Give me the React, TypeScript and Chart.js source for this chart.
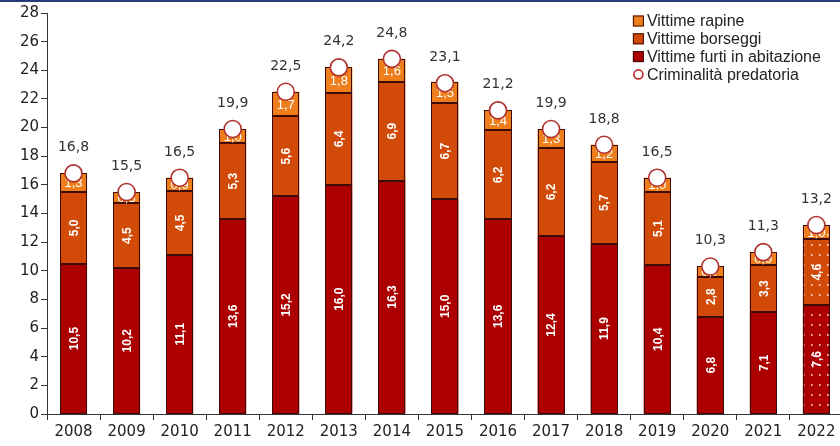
import React, { useEffect, useRef } from 'react';
import { Chart, registerables } from 'chart.js';
Chart.register(...registerables);

const years = ['2008','2009','2010','2011','2012','2013','2014','2015','2016','2017','2018','2019','2020','2021','2022'];
const furti = [10.5,10.2,11.1,13.6,15.2,16.0,16.3,15.0,13.6,12.4,11.9,10.4,6.8,7.1,7.6];
const borseggi = [5.0,4.5,4.5,5.3,5.6,6.4,6.9,6.7,6.2,6.2,5.7,5.1,2.8,3.3,4.6];
const rapine = [1.3,0.8,0.9,1.0,1.7,1.8,1.6,1.5,1.4,1.3,1.2,1.0,0.7,0.9,1.0];
const totale = [16.8,15.5,16.5,19.9,22.5,24.2,24.8,23.1,21.2,19.9,18.8,16.5,10.3,11.3,13.2];
const yMax = 28;
const yStep = 2;
const dottedIndex = 14;

const C_FURTI = '#AC0000';
const C_BORS = '#D24A08';
const C_RAP = '#EE7E1C';
const C_BORDER = '#3e0c08';

const fmt = (v: number) => v.toFixed(1).replace('.', ',');

function makePattern(color: string): CanvasPattern | string {
  const c = document.createElement('canvas');
  c.width = 8; c.height = 10;
  const g = c.getContext('2d');
  if (!g) return color;
  g.fillStyle = color;
  g.fillRect(0, 0, 8, 10);
  g.fillStyle = 'rgba(255,255,255,0.75)';
  g.fillRect(3, 4, 1.5, 2);
  const p = g.createPattern(c, 'repeat');
  return p || color;
}

const labelPlugin = {
  id: 'segLabels',
  afterDatasetDraw(chart: any, args: any) {
    if (args.index !== 0) return;
    const ctx = chart.ctx;
    ctx.save();
    ctx.strokeStyle = C_BORDER;
    ctx.lineWidth = 1;
    for (let d = 0; d < 3; d++) {
      const meta = chart.getDatasetMeta(d);
      meta.data.forEach((el: any) => {
        const { x, y, base, width } = el.getProps(['x', 'y', 'base', 'width'], true);
        const l = Math.round(x - width / 2) + 0.5;
        const r = Math.round(x + width / 2) - 0.5;
        const t = Math.round(y) + 0.5;
        const b = Math.round(base) - 0.5;
        ctx.strokeRect(l, t, r - l, b - t);
      });
    }
    for (let d = 0; d < 3; d++) {
      const meta = chart.getDatasetMeta(d);
      const vals = chart.data.datasets[d].data as number[];
      meta.data.forEach((el: any, j: number) => {
        const { x, y, base } = el.getProps(['x', 'y', 'base'], true);
        const cy = (y + base) / 2;
        ctx.fillStyle = '#ffffff';
        ctx.textAlign = 'center';
        ctx.textBaseline = 'middle';
        if (d < 2) {
          ctx.font = 'bold 12px "Liberation Sans"';
          ctx.save();
          ctx.translate(x, cy);
          ctx.rotate(-Math.PI / 2);
          ctx.fillText(fmt(vals[j]), 0, 1);
          ctx.restore();
        } else {
          ctx.font = '13px "Liberation Sans"';
          ctx.fillText(fmt(vals[j]), x, cy + 1);
        }
      });
    }
    ctx.restore();
  },
  afterDatasetsDraw(chart: any) {
    const ctx = chart.ctx;
    const meta = chart.getDatasetMeta(3);
    const vals = chart.data.datasets[3].data as number[];
    ctx.save();
    ctx.font = '14px "DejaVu Sans"';
    ctx.fillStyle = '#333333';
    ctx.textAlign = 'center';
    ctx.textBaseline = 'alphabetic';
    meta.data.forEach((el: any, j: number) => {
      ctx.fillText(fmt(vals[j]), el.x, el.y - 22);
    });
    ctx.restore();
  },
};

const legendPlugin = {
  id: 'customLegend',
  afterDraw(chart: any) {
    const ctx = chart.ctx;
    const ds = chart.data.datasets;
    const items = [ds[2], ds[1], ds[0], ds[3]];
    const x0 = chart.chartArea.right - 210;
    const y0 = chart.chartArea.top + 8;
    ctx.save();
    ctx.font = '16px "Liberation Sans"';
    ctx.textBaseline = 'middle';
    items.forEach((it: any, i: number) => {
      const cy = y0 + i * 17.8;
      if (i < 3) {
        ctx.fillStyle = it.legendColor;
        ctx.fillRect(x0, cy - 5.5, 11, 11);
        ctx.strokeStyle = C_BORDER;
        ctx.lineWidth = 1;
        ctx.strokeRect(x0 + 0.5, cy - 5, 10, 10);
      } else {
        ctx.beginPath();
        ctx.arc(x0 + 5.5, cy, 4.5, 0, Math.PI * 2);
        ctx.fillStyle = '#fff';
        ctx.fill();
        ctx.strokeStyle = '#c0282a';
        ctx.lineWidth = 1.6;
        ctx.stroke();
      }
      ctx.fillStyle = '#222222';
      ctx.textAlign = 'left';
      ctx.fillText(it.label, x0 + 14, cy + 1);
    });
    ctx.restore();
  },
};

export default function App() {
  const ref = useRef<HTMLCanvasElement | null>(null);
  useEffect(() => {
    if (!ref.current) return;
    const colorsFor = (c: string) => years.map((_, i) => (i === dottedIndex ? makePattern(c) : c));
    const barCommon = { borderWidth: 0, stack: 's', order: 1, barPercentage: 0.51, categoryPercentage: 1 };
    const chart = new Chart(ref.current, {
      type: 'bar',
      data: {
        labels: years,
        datasets: [
          { type: 'bar', label: 'Vittime furti in abitazione', data: furti, backgroundColor: colorsFor(C_FURTI) as any, legendColor: C_FURTI, ...barCommon } as any,
          { type: 'bar', label: 'Vittime borseggi', data: borseggi, backgroundColor: colorsFor(C_BORS) as any, legendColor: C_BORS, ...barCommon } as any,
          { type: 'bar', label: 'Vittime rapine', data: rapine, backgroundColor: colorsFor(C_RAP) as any, legendColor: C_RAP, ...barCommon } as any,
          { type: 'line', label: 'Criminalità predatoria', data: totale, showLine: false, pointRadius: 8.5, pointBackgroundColor: '#ffffff', pointBorderColor: '#b0302e', pointBorderWidth: 1.6, order: 0, stack: 'line' } as any,
        ],
      },
      options: {
        responsive: false,
        animation: false,
        layout: { padding: { top: 13, right: 1, left: 0, bottom: 0 } },
        plugins: { legend: { display: false }, tooltip: { enabled: false } },
        scales: {
          x: {
            stacked: true,
            grid: { offset: true, drawOnChartArea: false, tickLength: 6, color: '#333' },
            border: { color: '#333' },
            ticks: { color: '#222', font: { family: 'DejaVu Sans', size: 15 }, padding: 3, maxRotation: 0 },
            afterFit: (s: any) => { s.height = 32; },
          },
          y: {
            stacked: true,
            min: 0,
            max: yMax,
            grid: { drawOnChartArea: false, tickLength: 6, color: '#333' },
            border: { color: '#333' },
            ticks: { stepSize: yStep, color: '#222', font: { family: 'DejaVu Sans', size: 15 }, padding: 2 },
            afterFit: (s: any) => { s.width = 47; },
          },
        },
      },
      plugins: [labelPlugin, legendPlugin],
    } as any);
    return () => chart.destroy();
  }, []);
  return (
    <div style={{ position: 'fixed', left: 0, top: 0, width: 840, height: 446, overflow: 'hidden', background: '#fff' }}>
      <canvas ref={ref} width={853} height={446} style={{ display: 'block' }} />
      <div style={{ position: 'absolute', left: 0, top: 0, width: 840, height: 2, background: '#26397a' }} />
    </div>
  );
}
